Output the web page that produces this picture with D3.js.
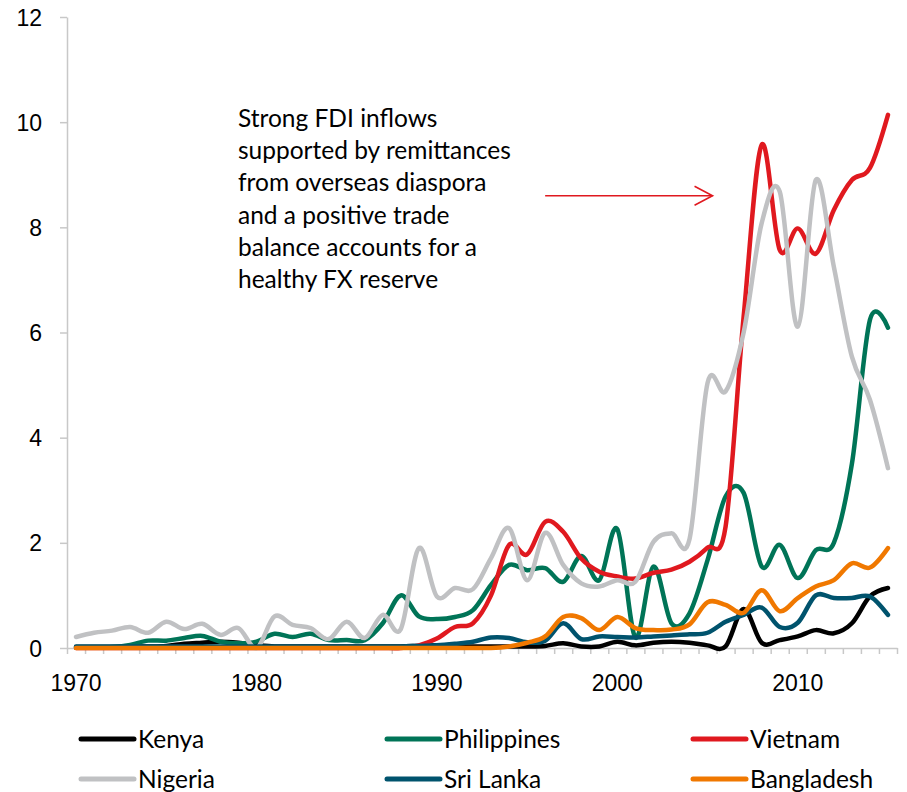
<!DOCTYPE html>
<html>
<head>
<meta charset="utf-8">
<script src="https://cdn.jsdelivr.net/npm/d3@7"></script>
<style>
  body { margin: 0; background: #fff; }
  svg { display: block; font-family: Lato, 'Open Sans', sans-serif; }
  .axis path, .axis line { stroke: #c8c8c8; stroke-width: 1.5; }
  .axis text { fill: #000; font-size: 23px; }
</style>
</head>
<body>
<script>
const years = d3.range(1970, 2016);

const kenya = [0.02, 0.02, 0.02, 0.03, 0.03, 0.04, 0.08, 0.1, 0.12, 0.1, 0.06, 0.03, 0.03, 0.03, 0.03, 0.03,
  0.03, 0.03, 0.03, 0.04, 0.05, 0.03, 0.03, 0.03, 0.03, 0.03, 0.04, 0.09, 0.03, 0.03, 0.12, 0.05,
  0.1, 0.12, 0.1, 0.05, 0.03, 0.74, 0.1, 0.15, 0.22, 0.34, 0.28, 0.47, 0.98, 1.14];
const philippines = [0.01, 0.01, 0.02, 0.06, 0.14, 0.14, 0.19, 0.23, 0.12, 0.09, 0.12, 0.27, 0.21, 0.27, 0.15, 0.15,
  0.15, 0.47, 1.0, 0.6, 0.55, 0.59, 0.72, 1.2, 1.58, 1.48, 1.52, 1.26, 1.75, 1.29, 2.26, 0.2,
  1.55, 0.47, 0.66, 1.67, 2.88, 2.95, 1.55, 1.96, 1.33, 1.86, 2.0, 3.5, 6.24, 6.09];
const vietnam = [0, 0, 0, 0, 0, 0, 0, 0, 0, 0, 0, 0, 0, 0, 0, 0,
  0, 0, 0, 0.05, 0.18, 0.4, 0.47, 1.0, 1.96, 1.78, 2.4, 2.21, 1.7, 1.45, 1.36, 1.32,
  1.43, 1.49, 1.64, 1.91, 2.31, 6.3, 9.57, 7.57, 7.98, 7.5, 8.33, 8.9, 9.13, 10.14];
const nigeria = [0.21, 0.29, 0.33, 0.4, 0.29, 0.5, 0.36, 0.46, 0.25, 0.38, 0.0, 0.6, 0.44, 0.38, 0.17, 0.5,
  0.19, 0.63, 0.36, 1.9, 0.98, 1.14, 1.12, 1.71, 2.28, 1.29, 2.19, 1.58, 1.23, 1.17, 1.29, 1.26,
  2.02, 2.18, 2.07, 5.04, 4.88, 6.0, 8.08, 8.68, 6.11, 8.9, 7.25, 5.54, 4.72, 3.42];
const sriLanka = [0.03, 0.03, 0.03, 0.03, 0.03, 0.03, 0.03, 0.03, 0.03, 0.03, 0.03, 0.03, 0.03, 0.03, 0.03, 0.03,
  0.03, 0.03, 0.03, 0.04, 0.05, 0.08, 0.12, 0.2, 0.19, 0.11, 0.14, 0.47, 0.17, 0.22, 0.21, 0.2,
  0.22, 0.24, 0.26, 0.29, 0.5, 0.63, 0.77, 0.4, 0.48, 1.0, 0.95, 0.95, 0.98, 0.63];
const bangladesh = [0, 0, 0, 0, 0, 0, 0, 0, 0, 0, 0, 0, 0, 0, 0, 0,
  0, 0, 0, 0, 0, 0, 0, 0, 0.03, 0.1, 0.22, 0.59, 0.57, 0.34, 0.59, 0.38,
  0.34, 0.35, 0.45, 0.87, 0.82, 0.67, 1.1, 0.7, 0.95, 1.17, 1.29, 1.61, 1.53, 1.9];

const seriesNames = ['Kenya', 'Philippines', 'Vietnam', 'Nigeria', 'Sri Lanka', 'Bangladesh'];
const seriesValues = [kenya, philippines, vietnam, nigeria, sriLanka, bangladesh];
const colors = ['#000000', '#007457', '#e0191f', '#c0c1c3', '#00536d', '#f07800'];

const yTicks = [0, 2, 4, 6, 8, 10, 12];
const xLabels = [1970, 1980, 1990, 2000, 2010];

const noteLines = ['Strong FDI inflows', 'supported by remittances', 'from overseas diaspora',
  'and a positive trade', 'balance accounts for a', 'healthy FX reserve'];

const width = 907;
const height = 792;
const plot = { left: 67, right: 897, top: 17, bottom: 648 };

const svg = d3.select('body').append('svg')
  .attr('width', width)
  .attr('height', height);

const xScale = d3.scaleBand()
  .domain(years)
  .range([plot.left, plot.right]);

// category boundaries for the small tick marks
const xEdge = d3.scaleLinear()
  .domain([0, years.length])
  .range([plot.left, plot.right]);

const yScale = d3.scaleLinear()
  .domain([0, 12])
  .range([plot.bottom, plot.top]);

const xc = yr => xScale(yr) + xScale.bandwidth() / 2;

// y axis
svg.append('g')
  .attr('class', 'axis')
  .attr('transform', `translate(${plot.left},0)`)
  .call(d3.axisLeft(yScale).tickValues(yTicks).tickSize(7).tickPadding(18).tickSizeOuter(0))
  .selectAll('text').attr('dy', '0.35em');

// x axis: ticks on category edges
svg.append('g')
  .attr('class', 'axis')
  .attr('transform', `translate(0,${plot.bottom})`)
  .call(d3.axisBottom(xEdge).tickValues(d3.range(0, years.length + 1)).tickFormat('').tickSize(6).tickSizeOuter(0));

// x labels at decades
svg.append('g')
  .attr('class', 'axis')
  .attr('transform', `translate(0,${plot.bottom})`)
  .call(d3.axisBottom(xScale).tickValues(xLabels).tickSize(0).tickPadding(27))
  .call(g => g.select('.domain').remove());

const line = d3.line()
  .x((d, i) => xc(years[i]))
  .y(d => yScale(d))
  .curve(d3.curveCatmullRom.alpha(0));

svg.append('g')
  .selectAll('path')
  .data(seriesValues)
  .join('path')
  .attr('d', d => line(d))
  .attr('fill', 'none')
  .attr('stroke', (d, i) => colors[i])
  .attr('stroke-width', 4.5)
  .attr('stroke-linecap', 'round')
  .attr('stroke-linejoin', 'round');

// annotation
const note = svg.append('text')
  .attr('x', 238)
  .attr('y', 127)
  .style('font-size', '24.5px')
  .attr('fill', '#000');
note.selectAll('tspan')
  .data(noteLines)
  .join('tspan')
  .attr('x', 238)
  .attr('dy', (d, i) => (i === 0 ? 0 : 32.2))
  .text(d => d);

// arrow pointing at Vietnam's jump, placed in data units
const arrowY = yScale(8.6);
const ax0 = xc(1996);
const ax1 = xc(2005) + 5;
svg.append('line')
  .attr('x1', ax0).attr('x2', ax1)
  .attr('y1', arrowY).attr('y2', arrowY)
  .attr('stroke', '#e0191f').attr('stroke-width', 1.6);
svg.append('path')
  .attr('d', `M${ax1 - 18},${arrowY - 9.5}L${ax1},${arrowY}L${ax1 - 18},${arrowY + 9.5}`)
  .attr('fill', 'none')
  .attr('stroke', '#e0191f').attr('stroke-width', 1.6);

// legend, 3 columns x 2 rows
const legendX = [81, 387, 693];
const legendY = [739, 779];
const legend = svg.append('g')
  .selectAll('g')
  .data(seriesNames)
  .join('g')
  .attr('transform', (d, i) => `translate(${legendX[i % 3]},${legendY[Math.floor(i / 3)]})`);

legend.append('line')
  .attr('x1', 0).attr('x2', 53)
  .attr('stroke', (d, i) => colors[i])
  .attr('stroke-width', 5)
  .attr('stroke-linecap', 'round');

legend.append('text')
  .attr('x', 57)
  .attr('dy', '0.35em')
  .style('font-size', '24.5px')
  .text(d => d);
</script>
</body>
</html>
